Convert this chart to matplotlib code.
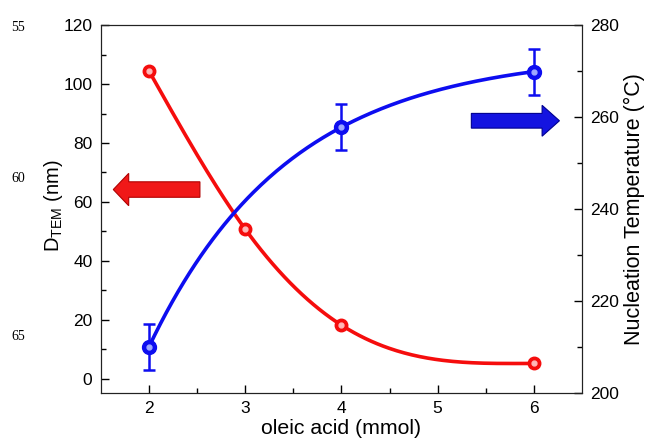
import matplotlib
matplotlib.use('Agg')
import matplotlib.pyplot as plt
import matplotlib.patches as mpatches
import numpy as np

plt.rcParams['font.family'] = ['Liberation Sans', 'DejaVu Sans']
plt.rcParams['mathtext.fontset'] = 'custom'
plt.rcParams['mathtext.rm'] = 'Liberation Sans'
plt.rcParams['mathtext.it'] = 'Liberation Sans:italic'

# data
oleic = [2, 3, 4, 6]
d_tem = [104.5, 50.8, 18.2, 5.2]
oleic_t = [2, 4, 6]
nuc_temp = [210.0, 257.8, 269.9]
nuc_err = [5.0, 5.0, 5.0]
line_numbers = ['55', '60', '65']


def smooth_spline(x, y, xs):
    # cubic spline through the measured points: free start, flat finish
    x = np.asarray(x, float)
    y = np.asarray(y, float)
    n = len(x)
    h = np.diff(x)
    A = np.zeros((n, n))
    rhs = np.zeros(n)
    A[0, 0] = 1
    for i in range(1, n - 1):
        A[i, i - 1] = h[i - 1]
        A[i, i] = 2 * (h[i - 1] + h[i])
        A[i, i + 1] = h[i]
        rhs[i] = 6 * ((y[i + 1] - y[i]) / h[i] - (y[i] - y[i - 1]) / h[i - 1])
    A[-1, -2] = h[-1]
    A[-1, -1] = 2 * h[-1]
    rhs[-1] = 6 * (0 - (y[-1] - y[-2]) / h[-1])
    M = np.linalg.solve(A, rhs)
    out = np.empty_like(xs)
    for j, xv in enumerate(xs):
        k = int(np.clip(np.searchsorted(x, xv, side='right') - 1, 0, n - 2))
        a = x[k + 1] - xv
        b = xv - x[k]
        out[j] = (M[k] * a**3 + M[k + 1] * b**3) / (6 * h[k]) \
            + (y[k] / h[k] - M[k] * h[k] / 6) * a + (y[k + 1] / h[k] - M[k + 1] * h[k] / 6) * b
    return out


def saturation_fit(x, y, xs):
    # y = A - C * r**(x - x0) through three equally spaced points
    r = ((y[2] - y[1]) / (y[1] - y[0])) ** (1.0 / (x[1] - x[0]))
    q = r ** (x[1] - x[0])
    C = (y[1] - y[0]) / (1 - q)
    A = y[0] + C
    return A - C * r ** (np.asarray(xs) - x[0])


fig = plt.figure(figsize=(6.46, 4.41), dpi=100)
ax = fig.add_axes([0.156, 0.109, 0.745, 0.834])
ax2 = ax.twinx()

red = '#f50d0d'
blue = '#0d0df0'

xs = np.linspace(oleic[0], oleic[-1], 200)
ax.plot(xs, smooth_spline(oleic, d_tem, xs), color=red, lw=2.6, zorder=3)
ax.plot(oleic, d_tem, 'o', color=red, ms=9, zorder=4)
ax.plot(oleic, d_tem, 'o', color='#ffb8b8', ms=3.5, zorder=5)

xs2 = np.linspace(oleic_t[0], oleic_t[-1], 200)
ax2.plot(xs2, saturation_fit(oleic_t, nuc_temp, xs2), color=blue, lw=2.6, zorder=3)
ax2.errorbar(oleic_t, nuc_temp, yerr=nuc_err, fmt='o', color=blue, ms=10,
             capsize=4, elinewidth=1.8, capthick=1.8, zorder=4)
ax2.plot(oleic_t, nuc_temp, 'o', color='#9fa8ff', ms=3.5, zorder=5)

ax.set_xlim(1.5, 6.5)
ax.set_ylim(-4.8, 120)
ax2.set_ylim(200, 280)

ax.set_xticks([2, 3, 4, 5, 6])
ax.set_xticks(np.arange(2.5, 6.5, 1.0), minor=True)
ax.set_yticks(np.arange(0, 121, 20))
ax.set_yticks(np.arange(10, 120, 20), minor=True)
ax2.set_yticks(np.arange(200, 281, 20))
ax2.set_yticks(np.arange(210, 280, 20), minor=True)

for a in (ax, ax2):
    a.tick_params(which='both', direction='in', labelsize=12.5, width=1, top=False, pad=6)
    a.tick_params(which='major', length=6)
    a.tick_params(which='minor', length=3.5)
    for s in a.spines.values():
        s.set_color('#222222')
ax.tick_params(right=False)
ax.tick_params(axis='x', pad=6)

ax.set_xlabel('oleic acid (mmol)', fontsize=15.3)
ax.xaxis.set_label_coords(0.5, -0.072)
ax.set_ylabel(r'D$_{\mathrm{TEM}}$ (nm)', fontsize=14.5)
ax.yaxis.set_label_coords(-0.074, 0.508)
ax2.set_ylabel('Nucleation Temperature (°C)', fontsize=15.5)
ax2.yaxis.set_label_coords(1.087, 0.5)

# red arrow pointing left, blue arrow pointing right
ax.add_patch(mpatches.FancyArrow(0.206, 0.553, -0.18, 0, width=0.042, head_width=0.088,
                                 head_length=0.032, length_includes_head=True,
                                 transform=ax.transAxes, facecolor='#f01818',
                                 edgecolor='#b00000', lw=0.8, zorder=6))
ax.add_patch(mpatches.FancyArrow(0.770, 0.740, 0.183, 0, width=0.040, head_width=0.084,
                                 head_length=0.036, length_includes_head=True,
                                 transform=ax.transAxes, facecolor='#1414e0',
                                 edgecolor='#000090', lw=0.8, zorder=6))

# manuscript line numbers in the margin
for lab, yy in zip(line_numbers, [0.938, 0.596, 0.236]):
    fig.text(0.028, yy, lab, fontsize=10, family='Liberation Serif', ha='center', va='center')

fig.savefig('out.png', dpi=100)
